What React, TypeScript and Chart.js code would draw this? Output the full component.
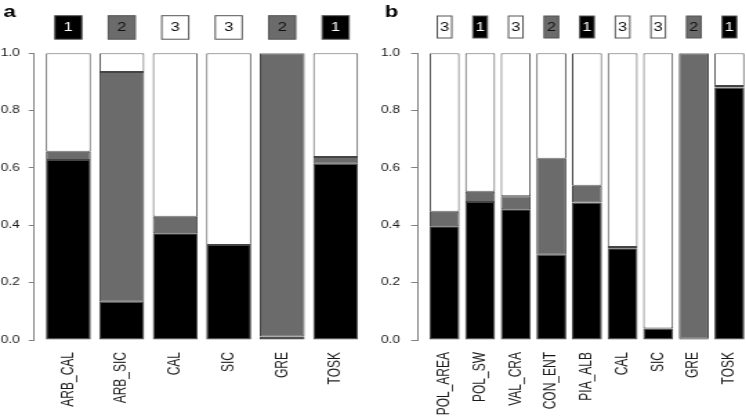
import React, { useEffect, useRef } from "react";
import { Chart, registerables } from "chart.js";

Chart.register(...registerables);

// ---- data ----
const labelsA = ["ARB_CAL", "ARB_SIC", "CAL", "SIC", "GRE", "TOSK"];
const cluster1A = [0.628, 0.133, 0.372, 0.331, 0.012, 0.615];
const cluster2A = [0.029, 0.802, 0.058, 0.0, 0.988, 0.023];
const cluster3A = [0.343, 0.065, 0.57, 0.669, 0.0, 0.362];
const assignA = [1, 2, 3, 3, 2, 1];

const labelsB = ["POL_AREA", "POL_SW", "VAL_CRA", "CON_ENT", "PIA_ALB", "CAL", "SIC", "GRE", "TOSK"];
const cluster1B = [0.397, 0.481, 0.456, 0.297, 0.48, 0.32, 0.04, 0.004, 0.881];
const cluster2B = [0.05, 0.036, 0.045, 0.335, 0.058, 0.004, 0.0, 0.996, 0.005];
const cluster3B = [0.553, 0.483, 0.499, 0.368, 0.462, 0.676, 0.96, 0.0, 0.114];
const assignB = [3, 1, 3, 2, 1, 3, 3, 2, 1];

const yTicks = [0, 0.2, 0.4, 0.6, 0.8, 1.0];

const COLORS: Record<number, string> = { 1: "#000000", 2: "#6b6b6b", 3: "#ffffff" };
const TEXTCOL: Record<number, string> = { 1: "#ffffff", 2: "#111111", 3: "#111111" };
const FONT = "'Liberation Sans', Arial, Helvetica, sans-serif";
const STRETCH = 1.38;

type PanelProps = {
  letter: string;
  letterX: number;
  labels: string[];
  s1: number[];
  s2: number[];
  s3: number[];
  assign: number[];
  canvasW: number;
  left: number;
  axisW: number;
  padRight: number;
  xMin: number;
  xMax: number;
  boxW: number;
  boxH: number;
  boxTop: number;
  tickLen: number;
  tickPad: number;
};

function Panel(p: PanelProps) {
  const ref = useRef<HTMLCanvasElement | null>(null);
  useEffect(() => {
    if (!ref.current) return;
    const mk = (arr: number[]) => arr.map((v, i) => ({ x: i, y: v }));
    const ds = (arr: number[], col: string) => ({
      data: mk(arr),
      backgroundColor: col,
      borderColor: "#444444",
      borderWidth: 1,
      borderSkipped: false as const,
      categoryPercentage: 1,
      barPercentage: 0.84,
    });
    const topPlugin = {
      id: "topBoxes",
      afterDraw(chart: any) {
        const ctx = chart.ctx;
        const xs = chart.scales.x;
        ctx.save();
        p.assign.forEach((c, i) => {
          const cx = xs.getPixelForValue(i);
          const x0 = cx - p.boxW / 2;
          ctx.fillStyle = COLORS[c];
          ctx.fillRect(x0, p.boxTop, p.boxW, p.boxH);
          ctx.strokeStyle = "#555555";
          ctx.lineWidth = 1;
          ctx.strokeRect(x0, p.boxTop, p.boxW, p.boxH);
          ctx.fillStyle = TEXTCOL[c];
          ctx.font = `12px ${FONT}`;
          ctx.textAlign = "center";
          ctx.textBaseline = "middle";
          ctx.fillText(String(c), cx, p.boxTop + p.boxH / 2 + 0.5);
        });
        ctx.fillStyle = "#000";
        ctx.font = `bold 16px ${FONT}`;
        ctx.textAlign = "left";
        ctx.textBaseline = "alphabetic";
        ctx.fillText(p.letter, p.letterX, 17);
        ctx.restore();
      },
    };
    const chart = new Chart(ref.current, {
      type: "bar",
      data: {
        datasets: [ds(p.s1, COLORS[1]), ds(p.s2, COLORS[2]), ds(p.s3, COLORS[3])],
      },
      options: {
        responsive: false,
        animation: false,
        devicePixelRatio: 1,
        layout: { padding: { top: 53.3, left: 0, right: p.padRight, bottom: 0 } },
        plugins: { legend: { display: false }, tooltip: { enabled: false } },
        scales: {
          x: {
            type: "linear",
            offset: false,
            stacked: true,
            min: p.xMin,
            max: p.xMax,
            afterBuildTicks: (s: any) => {
              s.ticks = p.labels.map((_, i) => ({ value: i }));
            },
            afterFit: (s: any) => {
              s.height = 76;
              s.paddingLeft = 0;
              s.paddingRight = 0;
            },
            grid: { display: false, offset: false, drawTicks: true, tickLength: 12 },
            border: { display: false },
            ticks: {
              autoSkip: false,
              minRotation: 90,
              maxRotation: 90,
              padding: 0,
              color: "#1a1a1a",
              font: { size: 12, family: FONT },
              callback: (v: any) => p.labels[Math.round(Number(v))] ?? "",
            },
          },
          y: {
            stacked: true,
            min: 0,
            max: 1,
            afterBuildTicks: (s: any) => {
              s.ticks = yTicks.map((v) => ({ value: v }));
            },
            afterFit: (s: any) => {
              s.width = p.axisW;
            },
            border: { display: true, color: "#808080", width: 1 },
            grid: {
              drawOnChartArea: false,
              drawTicks: true,
              tickLength: p.tickLen,
              color: "#808080",
            },
            ticks: {
              padding: p.tickPad,
              color: "#1a1a1a",
              font: { size: 10, family: FONT },
              callback: (v: any) => Number(v).toFixed(1),
            },
          },
        },
      } as any,
      plugins: [topPlugin],
    });
    return () => chart.destroy();
  }, []);
  return (
    <canvas
      ref={ref}
      width={p.canvasW}
      height={416}
      style={{
        position: "absolute",
        left: p.left,
        top: 0,
        width: `${p.canvasW * STRETCH}px`,
        height: "416px",
      }}
    />
  );
}

export default function App() {
  return (
    <div
      style={{
        position: "fixed",
        left: 0,
        top: 0,
        width: 746,
        height: 416,
        overflow: "hidden",
        background: "#ffffff",
      }}
    >
      <Panel
        letter="a"
        letterX={2.4}
        labels={labelsA}
        s1={cluster1A}
        s2={cluster2A}
        s3={cluster3A}
        assign={assignA}
        canvasW={270}
        left={0}
        axisW={24.3}
        padRight={1.9}
        xMin={-0.65}
        xMax={5.65}
        boxW={19.5}
        boxH={23.5}
        boxTop={15.7}
        tickLen={3.5}
        tickPad={6.5}
      />
      <Panel
        letter="b"
        letterX={8.5}
        labels={labelsB}
        s1={cluster1B}
        s2={cluster2B}
        s3={cluster3B}
        assign={assignB}
        canvasW={275}
        left={373}
        axisW={32.1}
        padRight={1.7}
        xMin={-0.763}
        xMax={8.597}
        boxW={10.5}
        boxH={22}
        boxTop={16}
        tickLen={4.5}
        tickPad={8}
      />
    </div>
  );
}
